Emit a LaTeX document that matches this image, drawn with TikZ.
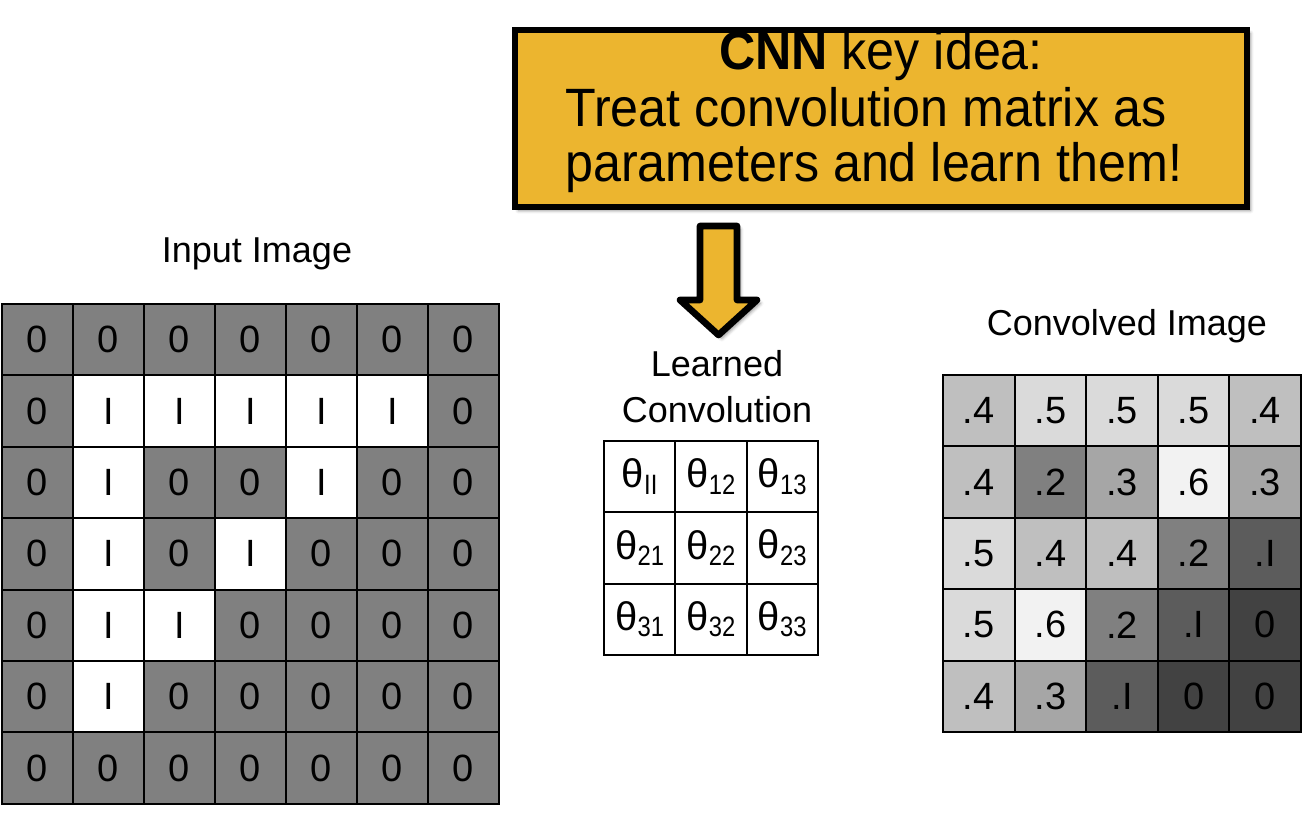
\documentclass[tikz,border=0pt]{standalone}
\usepackage{fontspec}
\setmainfont{Liberation Sans}
\newfontfamily\narrowfont[FakeStretch=0.93]{Liberation Sans}
\newfontfamily\subfont[FakeStretch=0.85]{Liberation Sans}
\usetikzlibrary{shadows.blur}

\definecolor{ideayellow}{RGB}{236,181,47}
\definecolor{inpx0}{RGB}{128,128,128}
\definecolor{inpx1}{RGB}{255,255,255}
\definecolor{cv0}{RGB}{66,66,66}
\definecolor{cv1}{RGB}{92,92,92}
\definecolor{cv2}{RGB}{128,128,128}
\definecolor{cv3}{RGB}{166,166,166}
\definecolor{cv4}{RGB}{191,191,191}
\definecolor{cv5}{RGB}{218,218,218}
\definecolor{cv6}{RGB}{242,242,242}

\newcommand{\thsub}[1]{θ\raisebox{-5pt}{\subfont\fontsize{21pt}{21pt}\selectfont #1}}

\begin{document}
\begin{tikzpicture}
		[x=0.75pt, y=-0.75pt,
		every node/.style={inner sep=0pt},
		lbl/.style={font=\fontsize{27pt}{27pt}\selectfont, anchor=base},
		ideatxt/.style={font=\narrowfont\fontsize{40.5pt}{40.5pt}\selectfont, anchor=base west},
		gridcell/.style={draw, line width=1.5pt, font=\fontsize{28.5pt}{29pt}\selectfont},
		incell/.style={gridcell, minimum width=53.25pt, minimum height=53.55pt},
		cvcell/.style={gridcell, minimum width=53.7pt, minimum height=53.55pt},
		thcell/.style={gridcell, fill=white, minimum size=53.5pt, font=\fontsize{30pt}{30pt}\selectfont},
		softshadow/.style={blur shadow={shadow xshift=2.5pt, shadow yshift=-2.5pt, shadow blur radius=2.5pt, shadow opacity=45}}]
		\useasboundingbox (0,0) rectangle (1306,816);
		
		% key idea box
		\node[draw, line width=4pt, fill=ideayellow, softshadow, minimum width=549pt, minimum height=132.75pt] (idea) at (881,118.5) {};
		\node[ideatxt, anchor=base] (idea-a) at (881,70) {\textbf{CNN} key idea:};
		\node[ideatxt] (idea-b) at (565,127) {Treat convolution matrix as};
		\node[ideatxt] (idea-c) at (565,182) {parameters and learn them!};
		
		\filldraw[line width=5pt, line join=round, fill=ideayellow, softshadow] (700,226) -- (737,226) -- (737,300) -- (757,300) -- (718.5,335) -- (680,300) -- (700,300) -- cycle;
		
		\node[lbl] (inlbl) at (257,263) {Input Image};
		\node[lbl] (learnlbl) at (717,377) {Learned};
		\node[lbl] (convlbl) at (717,422) {Convolution};
		\node[lbl] (outlbl) at (1127,336) {Convolved Image};
		
		% input image
		\foreach \vals [count=\rw from 0] in {{0,0,0,0,0,0,0},{0,1,1,1,1,1,0},{0,1,0,0,1,0,0},{0,1,0,1,0,0,0},{0,1,1,0,0,0,0},{0,1,0,0,0,0,0},{0,0,0,0,0,0,0}}
			\foreach \v [count=\cl from 0] in \vals
				\node[incell, fill=inpx\v] (in-\rw-\cl) at ({2+71*(\cl+0.5)}, {304+71.4*(\rw+0.5)}) {\ifnum\v=1 I\else 0\fi};
		
		% learned kernel
		\foreach \rw in {1,2,3}
			\foreach \cl in {1,2,3}
				\node[thcell] (th-\rw-\cl) at ({604+71.3*(\cl-0.5)}, {441+71.3*(\rw-0.5)}) {\thsub{\ifnum\rw\cl=11 II\else\rw\cl\fi}};
		
		% convolved image
		\foreach \vals [count=\rw from 0] in {{4,5,5,5,4},{4,2,3,6,3},{5,4,4,2,1},{5,6,2,1,0},{4,3,1,0,0}}
			\foreach \v [count=\cl from 0] in \vals
				\node[cvcell, fill=cv\v] (cv-\rw-\cl) at ({943+71.6*(\cl+0.5)}, {375+71.4*(\rw+0.5)}) {\ifcase\v\relax 0\or .I\else .\v\fi};
		\end{tikzpicture}
\end{document}
